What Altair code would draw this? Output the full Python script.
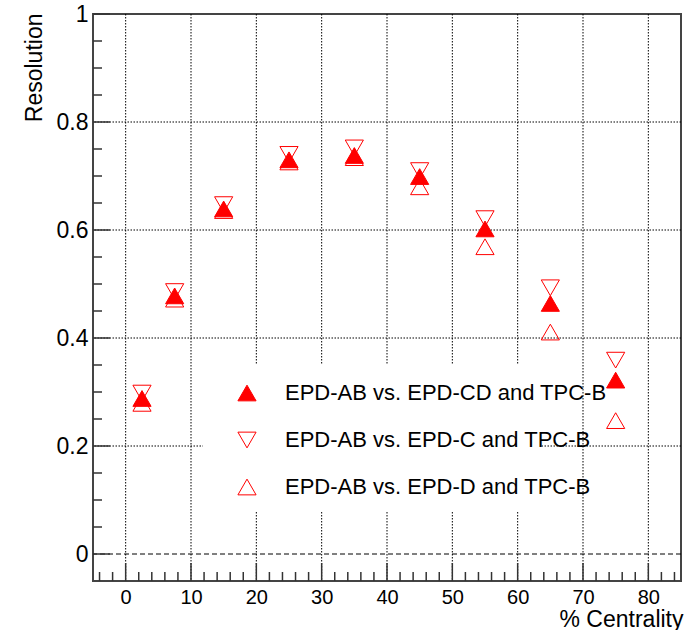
import altair as alt
import pandas as pd

# Event-plane resolution vs. centrality for three sub-event combinations
centrality = [2.5, 7.5, 15, 25, 35, 45, 55, 65, 75]
res_cd = [0.288, 0.478, 0.639, 0.730, 0.738, 0.699, 0.602, 0.464, 0.322]
res_c = [0.298, 0.486, 0.647, 0.740, 0.752, 0.710, 0.621, 0.493, 0.359]
res_d = [0.279, 0.472, 0.636, 0.726, 0.734, 0.680, 0.569, 0.411, 0.247]

series_labels = [
    "EPD-AB vs. EPD-CD and TPC-B",
    "EPD-AB vs. EPD-C and TPC-B",
    "EPD-AB vs. EPD-D and TPC-B",
]
series_shapes = ["triangle-up", "triangle-down", "triangle-up"]
series_fills = ["#ff0000", "transparent", "transparent"]
series_strokes = ["#ff0000", "#ff0000", "#ff0000"]

# Axis ticks and grid positions
x_major = [0, 10, 20, 30, 40, 50, 60, 70, 80]
x_minor = [-4, -2, 2, 4, 6, 8, 12, 14, 16, 18, 22, 24, 26, 28, 32, 34, 36, 38,
           42, 44, 46, 48, 52, 54, 56, 58, 62, 64, 66, 68, 72, 74, 76, 78,
           82, 84]
y_major = [0, 0.2, 0.4, 0.6, 0.8, 1.0]
y_minor = [0.05, 0.1, 0.15, 0.25, 0.3, 0.35, 0.45, 0.5, 0.55, 0.65, 0.7,
           0.75, 0.85, 0.9, 0.95]
y_grid = [0.2, 0.4, 0.6, 0.8]
zero_line = [0]

W, H = 588, 567
FONT = "Liberation Sans"

# open markers first, filled on top
rows = []
for lab, vals in [(series_labels[1], res_c), (series_labels[2], res_d),
                  (series_labels[0], res_cd)]:
    for c, v in zip(centrality, vals):
        rows.append({"centrality": c, "resolution": v, "series": lab})
points_df = pd.DataFrame(rows)

xs = alt.Scale(domain=[-5, 85], nice=False, zero=False)
ys = alt.Scale(domain=[-0.05, 1.0], nice=False, zero=False)

x_axis = alt.Axis(
    values=x_major, grid=False, ticks=False, tickSize=0, domain=False,
    labelFont=FONT, labelFontSize=20, labelColor="#000000",
    labelPadding=6, labelFlush=False,
    title="% Centrality", titleFont=FONT, titleFontSize=23,
    titleFontWeight="normal", titleColor="#000000",
    titleAnchor="end", titleAlign="right", titleBaseline="alphabetic",
    titleX=590, titleY=45)
y_axis = alt.Axis(
    values=y_major, format="~g", grid=False, ticks=False, tickSize=0,
    domain=False, labelFont=FONT, labelFontSize=23, labelColor="#000000",
    labelPadding=5, labelFlush=False,
    title="Resolution", titleFont=FONT, titleFontSize=23,
    titleFontWeight="normal", titleColor="#000000", titleAngle=270,
    titleAnchor="end", titleAlign="right", titleBaseline="middle",
    titleX=-59, titleY=-1)


def xenc(field):
    return alt.X(field, scale=xs, axis=x_axis)


def yenc(field):
    return alt.Y(field, scale=ys, axis=y_axis)


grid_style = dict(color="#000000", strokeWidth=1, strokeDash=[1.5, 1.5])
grid_x = alt.Chart(pd.DataFrame({"v": x_major})).mark_rule(**grid_style).encode(
    x=xenc("v:Q"))
grid_y = alt.Chart(pd.DataFrame({"v": y_grid})).mark_rule(**grid_style).encode(
    y=yenc("v:Q"))

zero = alt.Chart(pd.DataFrame({"v": zero_line})).mark_rule(
    color="#000000", strokeWidth=1, strokeDash=[5, 3]
).encode(y=yenc("v:Q"))

# white backdrop behind the legend entries
legend_box = alt.Chart(alt.Data(values=[{}])).mark_rect(fill="white").encode(
    x=alt.value(110), x2=alt.value(447), y=alt.value(350), y2=alt.value(498)
)

tick_style = dict(color="#333333", strokeWidth=1.5)
xt_major = alt.Chart(pd.DataFrame({"v": x_major})).mark_rule(**tick_style).encode(
    x=xenc("v:Q"), y=alt.value(H), y2=alt.value(H - 18))
xt_minor = alt.Chart(pd.DataFrame({"v": x_minor})).mark_rule(**tick_style).encode(
    x=xenc("v:Q"), y=alt.value(H), y2=alt.value(H - 9))
yt_major = alt.Chart(pd.DataFrame({"v": y_major})).mark_rule(**tick_style).encode(
    y=yenc("v:Q"), x=alt.value(0), x2=alt.value(17))
yt_minor = alt.Chart(pd.DataFrame({"v": y_minor})).mark_rule(**tick_style).encode(
    y=yenc("v:Q"), x=alt.value(0), x2=alt.value(9))

legend = alt.Legend(
    title=None, orient="none", legendX=143, legendY=368, padding=0,
    labelFont=FONT, labelFontSize=22, labelColor="#000000", labelLimit=600,
    labelOffset=27, rowPadding=25, symbolSize=330, symbolStrokeWidth=1,
    symbolOpacity=1,
)

points = alt.Chart(points_df).mark_point(
    strokeWidth=1, size=330, opacity=1
).encode(
    x=xenc("centrality:Q"),
    y=yenc("resolution:Q"),
    shape=alt.Shape("series:N", scale=alt.Scale(domain=series_labels,
                    range=series_shapes), legend=legend),
    fill=alt.Fill("series:N", scale=alt.Scale(domain=series_labels,
                  range=series_fills), legend=legend),
    stroke=alt.Stroke("series:N", scale=alt.Scale(domain=series_labels,
                      range=series_strokes), legend=legend),
)

chart = alt.layer(
    grid_x, grid_y, zero, legend_box, xt_major, xt_minor, yt_major, yt_minor,
    points,
).properties(
    width=W, height=H,
    autosize=alt.AutoSizeParams(type="none"),
    padding={"left": 93, "top": 14, "right": 3, "bottom": 49},
    background="white",
).configure_view(stroke="#444444", strokeWidth=2)

chart.save("out.html", embed_options={"renderer": "svg", "actions": False})
